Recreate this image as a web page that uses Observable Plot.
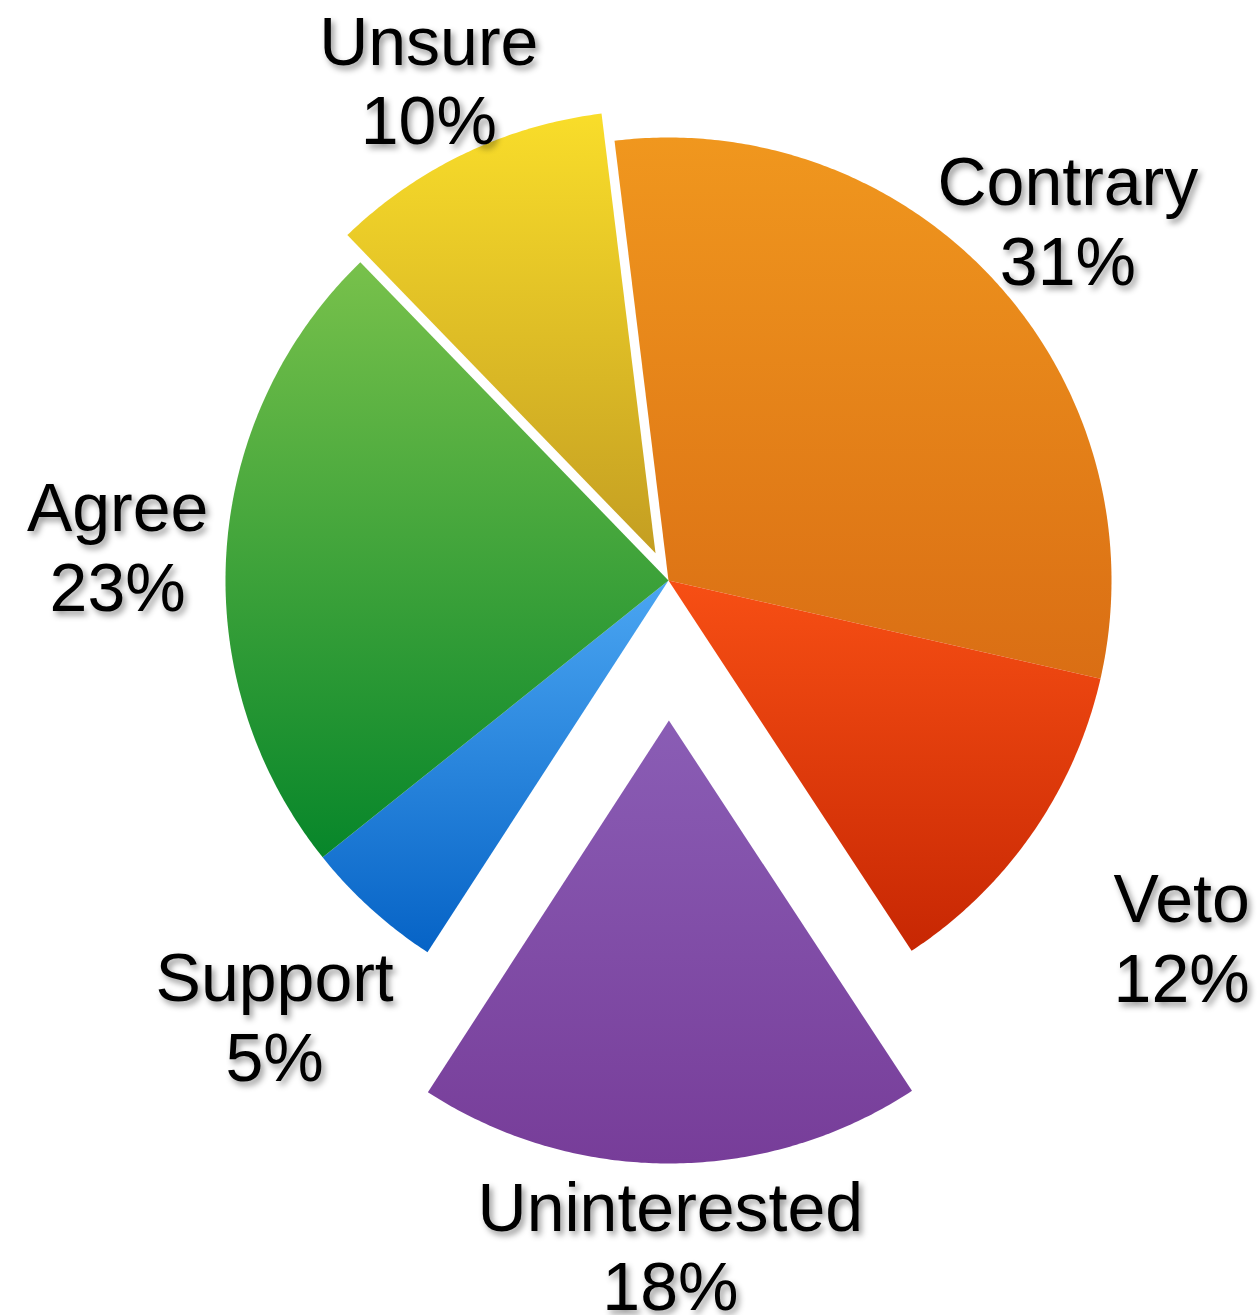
<!DOCTYPE html>
<html><head><meta charset="utf-8">
<script src="https://cdn.jsdelivr.net/npm/d3@7"></script>
<script src="https://cdn.jsdelivr.net/npm/@observablehq/plot@0.6"></script>
<style>
body{margin:0;background:#fff}
#chart text{filter: drop-shadow(3px 4px 3px rgba(0,0,0,0.42));}
</style></head><body><div id="chart"></div>
<script>
// ---- data ----
const categories = ["Contrary", "Veto", "Uninterested", "Support", "Agree", "Unsure"];
const shares = [30.5, 12.2, 18.4, 5.1, 23.5, 10.3];
const percentLabels = ["31%", "12%", "18%", "5%", "23%", "10%"];

// ---- layout / style (not data) ----
const W = 1258, H = 1315, CX = 668, CY = 580, R = 443;
const startDeg = -7;
const explode = {Uninterested: 0.316, Unsure: 0.068};
const labelDist = {Contrary: 1.215, Veto: 1.41, Uninterested: 1.50, Support: 1.325, Agree: 1.246, Unsure: 1.255};
const gradTop = {Contrary: "#F0971E", Veto: "#F74F14", Uninterested: "#8A5DB5", Support: "#4BA6F2", Agree: "#78C14B", Unsure: "#F9DD2A"};
const gradBot = {Contrary: "#DA6E14", Veto: "#C72703", Uninterested: "#773D99", Support: "#0663C6", Agree: "#07862A", Unsure: "#C49E22"};

const total = d3.sum(shares);
const rad = d => d * Math.PI / 180;
let acc = startDeg;
const slices = categories.map((c, i) => {
  const a0 = acc, a1 = acc + shares[i] / total * 360;
  acc = a1;
  const mid = rad((a0 + a1) / 2);
  const e = explode[c] || 0;
  const ox = e * Math.sin(mid), oy = -e * Math.cos(mid);
  const pts = [{x: ox, y: oy}];
  const n = Math.max(2, Math.ceil((a1 - a0) / 0.5));
  for (let k = 0; k <= n; k++) {
    const a = rad(a0 + (a1 - a0) * k / n);
    pts.push({x: ox + Math.sin(a), y: oy - Math.cos(a)});
  }
  pts.push({x: ox, y: oy});
  const ld = labelDist[c];
  return {key: c, i, pts, label: `${c}\n${percentLabels[i]}`, lx: ld * Math.sin(mid), ly: -ld * Math.cos(mid)};
});

const defsMark = () => {
  const ns = "http://www.w3.org/2000/svg";
  const defs = document.createElementNS(ns, "defs");
  slices.forEach(s => {
    const g = document.createElementNS(ns, "linearGradient");
    g.setAttribute("id", "grad" + s.i);
    g.setAttribute("x1", "0"); g.setAttribute("y1", "0");
    g.setAttribute("x2", "0"); g.setAttribute("y2", "1");
    [[0, gradTop[s.key]], [1, gradBot[s.key]]].forEach(([o, col]) => {
      const st = document.createElementNS(ns, "stop");
      st.setAttribute("offset", o);
      st.setAttribute("stop-color", col);
      g.appendChild(st);
    });
    defs.appendChild(g);
  });
  return defs;
};

const chart = Plot.plot({
  width: W, height: H,
  margin: 0,
  x: {domain: [-CX / R, (W - CX) / R], range: [0, W], axis: null},
  y: {domain: [-CY / R, (H - CY) / R], range: [0, H], axis: null},
  marks: [
    defsMark,
    ...slices.map(s => Plot.line(s.pts, {x: "x", y: "y", fill: `url(#grad${s.i})`, stroke: "none", curve: "linear"})),
    Plot.text(slices, {x: "lx", y: "ly", text: "label", fontSize: 68, lineHeight: 1.17, fill: "#000",
      fontFamily: "'Liberation Sans', 'Helvetica Neue', Arial, sans-serif", textAnchor: "middle", lineAnchor: "middle"})
  ]
});
document.getElementById("chart").appendChild(chart);
</script></body></html>
